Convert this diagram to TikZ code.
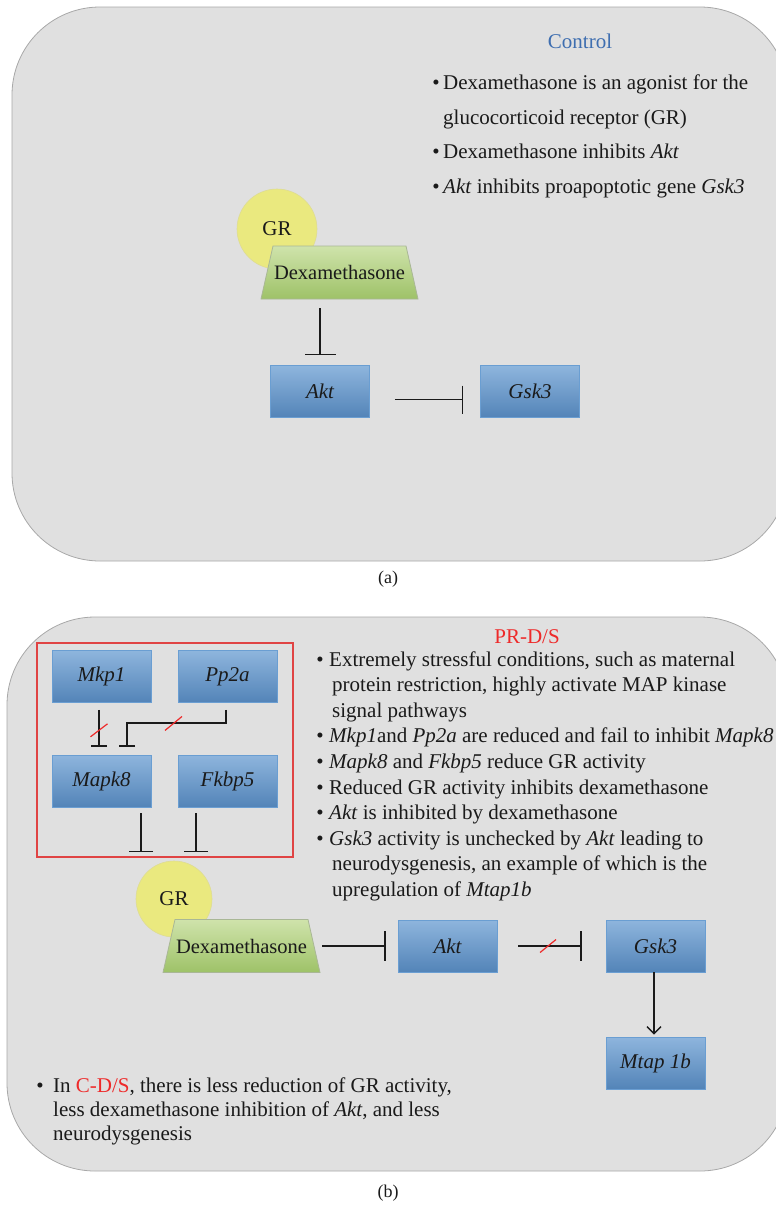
\documentclass[tikz,border=0pt]{standalone}
\usepackage{fontspec}
\setmainfont{Liberation Serif}
\usetikzlibrary{arrows.meta,calc}
\definecolor{panelfill}{HTML}{E0E0E0}
\definecolor{panelborder}{HTML}{A8A8A8}
\definecolor{boxtop}{HTML}{8EB5DD}
\definecolor{boxbot}{HTML}{5384B8}
\definecolor{boxborder}{HTML}{6A9ED2}
\definecolor{dextop}{HTML}{CFE3AB}
\definecolor{dexbot}{HTML}{9EC268}
\definecolor{dexborder}{HTML}{A9B796}
\definecolor{grfill}{HTML}{EAE97F}
\definecolor{grborder}{HTML}{DEDC95}
\definecolor{ctrlblue}{HTML}{3E6EB0}
\definecolor{myred}{HTML}{EE2A2A}
\definecolor{frameRed}{HTML}{E04444}
\definecolor{ink}{HTML}{1A1A1A}
\newcommand\trapz[1]{\shade[top color=dextop,bottom color=dexbot,draw=dexborder,line width=0.8pt]
  ($(#1)+(-78.5,26.5)$) -- ($(#1)+(78.5,26.5)$) -- ($(#1)+(66.5,-26.5)$) -- ($(#1)+(-66.5,-26.5)$) -- cycle;}
\begin{document}
\begin{tikzpicture}[x=1pt,y=-1pt,
  panel/.style={draw=panelborder,fill=panelfill,line width=0.8pt,rounded corners=88pt},
  gene/.style={rectangle,draw=boxborder,line width=0.9pt,top color=boxtop,bottom color=boxbot,
    minimum width=99pt,minimum height=52pt,inner sep=0pt,text=ink,font=\fontsize{21}{24}\selectfont\itshape},
  dexnode/.style={rectangle,minimum width=157pt,minimum height=53pt,inner sep=0pt,text=ink,font=\fontsize{20.5}{24}\selectfont},
  gr/.style={circle,fill=grfill,draw=grborder,line width=0.6pt,inner sep=0pt,text=ink,font=\fontsize{21}{24}\selectfont},
  inh/.style={draw=ink,line width=1.3pt,-{Bar[width=#1,line width=1.3pt]}},
  slash/.style={draw=myred,line width=1.2pt},
  txt/.style={anchor=base west,inner sep=0pt,text=ink,font=\fontsize{21}{25}\selectfont},
  bul/.style={anchor=base,inner sep=0pt,text=ink,font=\fontsize{21}{25}\selectfont},
  captext/.style={inner sep=0pt,text=ink,font=\fontsize{18}{20}\selectfont}
]
\useasboundingbox (0,0) rectangle (776,1208);

% ---------------- panel (a)
\draw[panel] (12,7) rectangle (788,561);
\node[inner sep=0pt,text=ctrlblue,font=\fontsize{21}{24}\selectfont] (ctrl) at (580,41) {Control};
\node[bul] (ba1) at (436,89) {•};
\node[txt] (ta1) at (443,89) {Dexamethasone is an agonist for the};
\node[txt] (ta2) at (443,124) {glucocorticoid receptor (GR)};
\node[bul] (ba2) at (436,158) {•};
\node[txt] (ta3) at (443,158) {Dexamethasone inhibits \textit{Akt}};
\node[bul] (ba3) at (436,193) {•};
\node[txt] (ta4) at (443,193) {\textit{Akt} inhibits proapoptotic gene \textit{Gsk3}};

\node[gr,minimum size=80pt] (grA) at (277,229) {GR};
\coordinate (dexAc) at (339.5,272.5);
\trapz{dexAc}
\node[dexnode] (dexA) at (dexAc) {Dexamethasone};
\node[gene] (aktA) at (320,391.5) {Akt};
\node[gene] (gskA) at (530,391.5) {Gsk3};
\draw[inh=31pt,shorten <=9pt,shorten >=10pt] (aktA.north |- dexA.south) -- (aktA.north);
\draw[inh=28pt,shorten <=25pt,shorten >=17pt] ([yshift=-8pt]aktA.east) -- ([yshift=-8pt]gskA.west);

\node[captext] (capa) at (388,579) {(a)};

% ---------------- panel (b)
\draw[panel] (7,617) rectangle (788,1171);
\node[inner sep=0pt,text=myred,font=\fontsize{21}{24}\selectfont] (prds) at (527,637) {PR-D/S};
\node[bul] (bb1) at (320,666) {•};
\node[txt] (tb1) at (329,666) {Extremely stressful conditions, such as maternal};
\node[txt] (tb2) at (332,691.6) {protein restriction, highly activate MAP kinase};
\node[txt] (tb3) at (332,717.2) {signal pathways};
\node[bul] (bb2) at (320,742.8) {•};
\node[txt] (tb4) at (329,742.8) {\textit{Mkp1}and \textit{Pp2a} are reduced and fail to inhibit \textit{Mapk8}};
\node[bul] (bb3) at (320,768.4) {•};
\node[txt] (tb5) at (329,768.4) {\textit{Mapk8} and \textit{Fkbp5} reduce GR activity};
\node[bul] (bb4) at (320,794) {•};
\node[txt] (tb6) at (329,794) {Reduced GR activity inhibits dexamethasone};
\node[bul] (bb5) at (320,819.6) {•};
\node[txt] (tb7) at (329,819.6) {\textit{Akt} is inhibited by dexamethasone};
\node[bul] (bb6) at (320,845.2) {•};
\node[txt] (tb8) at (329,845.2) {\textit{Gsk3} activity is unchecked by \textit{Akt} leading to};
\node[txt] (tb9) at (332,870.8) {neurodysgenesis, an example of which is the};
\node[txt] (tb10) at (332,896.4) {upregulation of \textit{Mtap1b}};

\node[draw=frameRed,line width=1.2pt,minimum width=256pt,minimum height=214pt,inner sep=0pt] (box) at (165,750) {};
\node[gene] (mkp) at (101.5,676.5) {Mkp1};
\node[gene] (pp) at (227.5,676.5) {Pp2a};
\node[gene] (mapk) at (101.5,781) {Mapk8};
\node[gene] (fk) at (227.5,781) {Fkbp5};

\draw[inh=16pt,shorten <=7pt,shorten >=8pt] ([xshift=-2.5pt]mkp.south) -- coordinate[pos=0.53] (s1) ([xshift=-2.5pt]mapk.north);
\draw[slash] ($(s1)+(-8.5,6.5)$) -- ($(s1)+(8.5,-6.5)$);
\draw[inh=16pt,shorten <=7pt,shorten >=8pt] ([xshift=-1.5pt]pp.south) -- ++(0,20) -| ([xshift=25.5pt]mapk.north);
\coordinate (s2) at ($(pp.south)+(-54,20.5)$);
\draw[slash] ($(s2)+(-8.5,7)$) -- ($(s2)+(8.5,-7)$);
\coordinate (mEnd) at ($(mapk.south)+(39.5,45)$);
\coordinate (fEnd) at ($(fk.south)+(-31.5,45)$);
\draw[inh=24pt,shorten <=6pt] ([xshift=39.5pt]mapk.south) -- (mEnd);
\draw[inh=24pt,shorten <=6pt] ([xshift=-31.5pt]fk.south) -- (fEnd);

\node[gr,minimum size=76pt] (grB) at (174,899) {GR};
\coordinate (dexBc) at (241.5,946);
\trapz{dexBc}
\node[dexnode] (dexB) at (dexBc) {Dexamethasone};
\node[gene] (aktB) at (447.5,946) {Akt};
\node[gene] (gskB) at (655.5,946) {Gsk3};
\node[gene] (mtap) at (655.5,1063) {Mtap 1b};
\draw[inh=30pt,shorten <=2pt,shorten >=12pt] (dexB.east) -- (aktB.west);
\draw[inh=30pt,shorten <=21pt,shorten >=24pt] (aktB.east) -- coordinate[pos=0.468] (s3) (gskB.west);
\draw[slash] ($(s3)+(-8,6.5)$) -- ($(s3)+(8,-6.5)$);
\draw[draw=ink,line width=1.3pt,-{Straight Barb[length=7pt,width=14pt,line width=1.3pt]},shorten >=2pt] ([xshift=-1.5pt]gskB.south) -- ([xshift=-1.5pt]mtap.north);

\node[bul] (bc1) at (40,1092) {•};
\node[txt] (tc1) at (53,1092) {In \textcolor{myred}{C-D/S}, there is less reduction of GR activity,};
\node[txt] (tc2) at (53,1116) {less dexamethasone inhibition of \textit{Akt}, and less};
\node[txt] (tc3) at (53,1140) {neurodysgenesis};

\node[captext] (capb) at (388,1193) {(b)};
\end{tikzpicture}
\end{document}
